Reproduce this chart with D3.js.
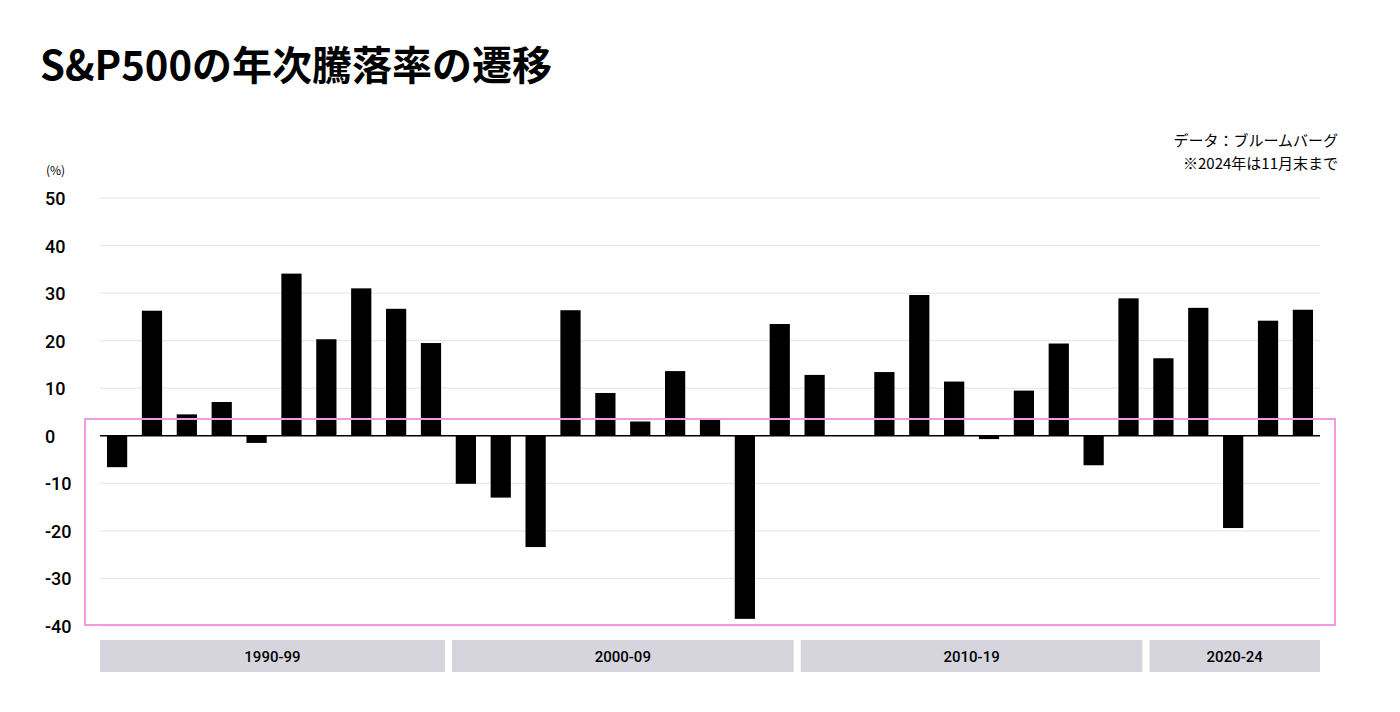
<!DOCTYPE html><html><head><meta charset="utf-8">
<script src="https://cdn.jsdelivr.net/npm/d3@7/dist/d3.min.js"></script>
<style>body{margin:0;background:#fff;font-family:"Noto Sans CJK JP","Noto Sans",sans-serif}</style></head><body>
<svg id="c" width="1400" height="712"></svg>
<script>
const years=d3.range(1990,2025);
const values=[-6.6,26.3,4.5,7.1,-1.5,34.1,20.3,31.0,26.7,19.5,-10.1,-13.0,-23.4,26.4,9.0,3.0,13.6,3.5,-38.5,23.5,12.8,0.0,13.4,29.6,11.4,-0.7,9.5,19.4,-6.2,28.9,16.3,26.9,-19.4,24.2,26.5];
const yTicks=[50,40,30,20,10,0,-10,-20,-30,-40];
const groups=[{label:"1990-99",from:1990,to:1999},{label:"2000-09",from:2000,to:2009},{label:"2010-19",from:2010,to:2019},{label:"2020-24",from:2020,to:2024}];
const svg=d3.select("#c");
const L=100,R=1320;
const x=d3.scaleBand().domain(years).range([L,R]).paddingInner(0.42).paddingOuter(0.2);
const y=d3.scaleLinear().domain([-40,50]).range([626,198]);
svg.append("text").attr("x",40).attr("y",80).attr("font-size",40).attr("font-weight",700).attr("fill","#000").text("S&P500の年次騰落率の遷移");
svg.append("text").attr("x",1338).attr("y",146).attr("text-anchor","end").attr("font-size",15).text("データ：ブルームバーグ");
svg.append("text").attr("x",1338).attr("y",169).attr("text-anchor","end").attr("font-size",15).text("※2024年は11月末まで");
svg.append("text").attr("x",46).attr("y",175).attr("font-size",12).text("(%)");
yTicks.forEach(t=>{
  svg.append("line").attr("x1",L).attr("x2",R).attr("y1",y(t)).attr("y2",y(t)).attr("stroke","#e4e4e4").attr("stroke-width",1);
  svg.append("text").attr("x",45).attr("y",y(t)+7).attr("font-size",18).attr("font-family","Roboto, sans-serif").attr("font-weight",500).text(t);
});
svg.selectAll("rect.b").data(years).join("rect").attr("class","b")
  .attr("x",d=>x(d)).attr("width",x.bandwidth())
  .attr("y",(d,i)=>y(Math.max(0,values[i]))).attr("height",(d,i)=>Math.abs(y(values[i])-y(0))).attr("fill","#000");
svg.append("line").attr("x1",L).attr("x2",R).attr("y1",y(0)).attr("y2",y(0)).attr("stroke","#000").attr("stroke-width",1.5);
const gap=(x.step()-x.bandwidth())/2;
groups.forEach(g=>{
  const a=g.from===1990?L:x(g.from)-gap+3.5;
  const b=g.to===2024?R:x(g.to)+x.bandwidth()+gap-3.5;
  svg.append("rect").attr("x",a).attr("y",640).attr("width",b-a).attr("height",32).attr("fill","#d6d5de");
  svg.append("text").attr("x",(a+b)/2).attr("y",662).attr("text-anchor","middle").attr("font-size",15).attr("font-family","Roboto, sans-serif").attr("font-weight",500).text(g.label);
});
svg.append("rect").attr("x",85).attr("y",419).attr("width",1250).attr("height",206).attr("fill","none").attr("stroke","#f29ae0").attr("stroke-width",2);
</script></body></html>
